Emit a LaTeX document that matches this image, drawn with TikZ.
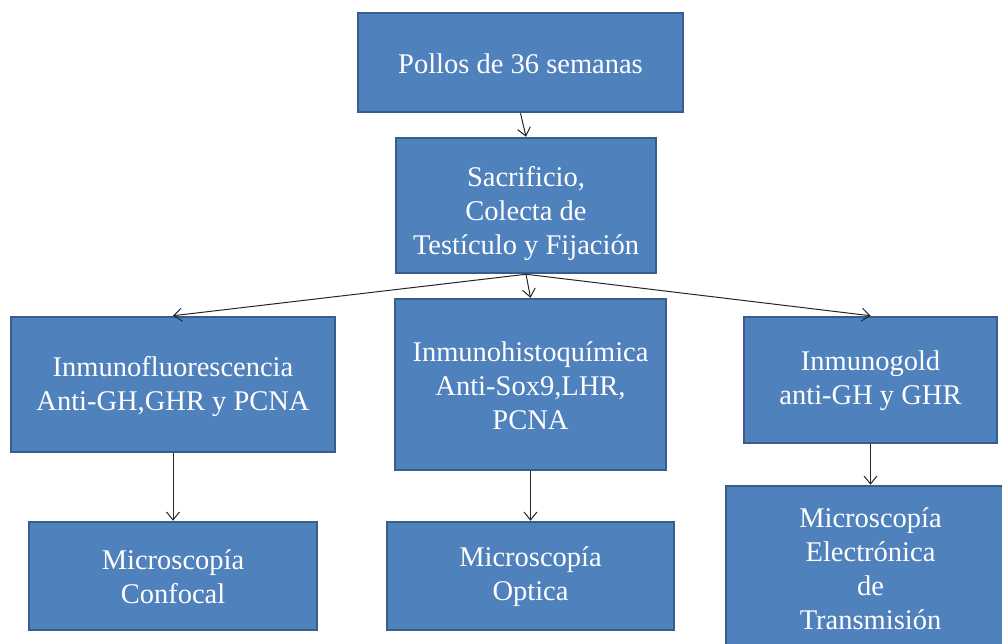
\documentclass[tikz,border=0pt]{standalone}
\usepackage{fontspec}
\setmainfont{Liberation Serif}
\newfontfamily\boxfont{Liberation Serif}
\usetikzlibrary{arrows.meta}
\definecolor{boxfill}{HTML}{4F81BD}
\definecolor{boxline}{HTML}{385D8A}
\begin{document}
\begin{tikzpicture}[x=1pt,y=-1pt,
  box/.style={draw=boxline, fill=boxfill, line width=2.5pt, inner sep=0pt},
  lbl/.style={text=white, align=center, inner sep=0pt, font=\boxfont\fontsize{28.5}{34}\selectfont},
  conn/.style={draw=black!85, line width=1pt, -{Straight Barb[length=8pt,width=13pt]}}]
\useasboundingbox (0,0) rectangle (1002,643);
\clip (0,0) rectangle (1002,643);
\fill[white] (0,0) rectangle (1002,643);
% boxes
\node[box, minimum width=325pt, minimum height=99pt]  (b1) at (520.5,62.5) {};
\node[box, minimum width=260pt, minimum height=135pt] (b2) at (526,205.5) {};
\node[box, minimum width=324pt, minimum height=135pt] (b3) at (173,384.5) {};
\node[box, minimum width=271pt, minimum height=171pt] (b4) at (530.5,384.5) {};
\node[box, minimum width=253pt, minimum height=126pt] (b5) at (870.5,380) {};
\node[box, minimum width=288pt, minimum height=108pt] (b6) at (173,576) {};
\node[box, minimum width=287pt, minimum height=108pt] (b7) at (530.5,576) {};
\node[box, minimum width=289pt, minimum height=184pt] (b8) at (870.5,578) {};
% labels
\node[lbl] (t1) at (520.5,64) {Pollos de 36 semanas};
\node[lbl] (t2) at (526,214) {Sacrificio,\\Colecta de\\Testículo y Fijación};
\node[lbl] (t3) at (173,387) {Inmunofluorescencia\\Anti-GH,GHR y PCNA};
\node[lbl] (t4) at (530.5,386) {Inmunohistoquímica\\Anti-Sox9,LHR,\\PCNA};
\node[lbl] (t5) at (870.5,381) {Inmunogold\\anti-GH y GHR};
\node[lbl] (t6) at (173,577) {Microscopía\\Confocal};
\node[lbl] (t7) at (530.5,577) {Microscopía\\Optica};
\node[lbl] (t8) at (870.5,569) {Microscopía\\Electrónica\\de\\Transmisión};
% connectors
\draw[conn] (b1.south) -- (b2.north);
\draw[conn] (b2.south) -- (b3.north);
\draw[conn] (b2.south) -- (b4.north);
\draw[conn] (b2.south) -- (b5.north);
\draw[conn] (b3.south) -- (b6.north);
\draw[conn] (b4.south) -- (b7.north);
\draw[conn] (b5.south) -- (b8.north);
\end{tikzpicture}
\end{document}
